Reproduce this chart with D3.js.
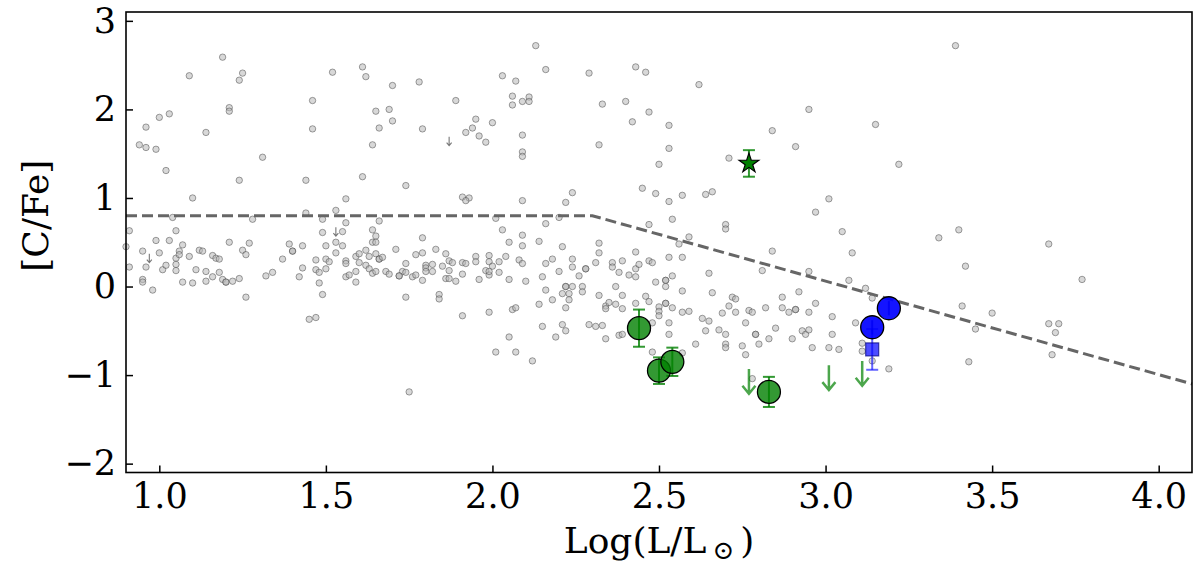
<!DOCTYPE html>
<html>
<head>
<meta charset="utf-8">
<script src="https://d3js.org/d3.v7.min.js"></script>
<style>
  body { margin: 0; background: white; }
  text { font-family: "DejaVu Serif", serif; }
</style>
</head>
<body>
<script>
// gray comparison sample: [log L, [C/Fe]]
const grayPoints = [
  [0.91,0.63],[0.94,1.60],[0.96,1.57],[0.96,1.80],[0.99,1.55],[1.00,1.91],[1.02,1.31],[1.03,1.95],[1.04,0.78],[1.05,0.63],
  [1.09,2.38],[1.10,1.00],[1.14,1.74],[1.19,2.59],[1.21,2.02],[1.21,1.98],[1.24,2.33],[1.25,2.41],[1.24,1.20],[1.28,0.76],
  [1.31,1.46],[1.44,1.20],[1.44,0.83],[1.46,2.10],[1.46,1.78],[1.49,0.76],[1.49,0.61],[1.52,2.42],[1.53,0.86],[1.55,0.62],
  [1.56,0.99],[1.56,0.72],[1.61,2.48],[1.62,2.37],[1.61,1.24],[1.64,1.60],[1.65,1.98],[1.66,1.79],[1.64,0.64],[1.65,0.57],
  [1.66,0.74],[1.69,2.00],
  [0.90,0.45],[0.91,0.22],[0.95,0.40],[0.96,0.22],[0.95,0.08],[0.95,0.05],[0.98,-0.04],[0.99,0.52],[1.00,0.38],[1.01,0.19],
  [1.02,0.24],[1.03,0.52],[1.05,0.32],[1.05,0.25],[1.05,0.18],[1.06,0.40],[1.06,0.36],[1.07,0.47],[1.07,0.05],[1.09,0.34],
  [1.10,0.04],[1.11,0.19],[1.12,0.41],[1.13,0.40],[1.14,0.17],[1.14,0.06],[1.16,0.35],[1.17,0.32],[1.18,0.31],[1.16,0.11],
  [1.18,0.16],[1.19,0.08],[1.20,0.05],[1.20,0.05],[1.21,0.50],[1.22,0.06],[1.24,0.09],[1.25,0.41],[1.26,0.36],[1.26,-0.12],
  [1.27,0.49],[1.32,0.12],[1.34,0.16],[1.37,0.31],[1.39,0.48],[1.40,0.40],[1.40,0.40],[1.43,0.46],[1.43,0.21],[1.42,0.11],
  [1.45,-0.37],[1.47,-0.35],[1.47,0.30],[1.47,0.19],[1.48,0.16],[1.48,0.04],[1.49,-0.09],[1.50,0.46],[1.50,0.31],[1.50,0.20],
  [1.51,0.28],[1.53,0.50],[1.53,0.38],[1.55,0.46],[1.56,0.29],[1.56,0.26],[1.56,0.11],[1.57,0.13],[1.59,0.34],[1.59,0.17],
  [1.59,0.05],[1.60,0.37],[1.60,0.27],[1.62,0.24],[1.62,0.41],[1.63,0.34],[1.63,0.20],[1.64,0.15],[1.64,0.50],[1.65,0.50],
  [1.65,0.37],[1.65,0.17],[1.66,0.31],[1.66,0.31],[1.67,0.33],[1.68,0.17],[1.69,0.14],
  [1.70,2.27],[1.70,1.87],[1.78,2.31],[1.79,1.78],[1.74,1.14],[1.79,0.55],[1.89,2.10],[1.92,1.74],[1.94,1.79],[1.95,1.89],
  [1.96,1.70],[1.98,1.63],[2.00,1.85],[1.91,1.01],[1.93,1.00],[1.92,0.97],[2.01,0.77],[2.03,2.38],[2.03,0.64],[2.06,2.15],
  [2.06,2.05],[2.07,2.32],[2.09,2.09],[2.11,2.14],[2.11,2.09],[2.09,1.71],[2.09,1.52],[2.09,1.47],[2.09,0.97],[2.09,0.58],
  [2.13,2.72],[2.16,2.45],[2.16,0.71],[2.20,0.78],[2.22,0.95],[2.24,1.06],[2.29,2.41],[2.33,2.06],[2.32,1.60],[2.40,2.09],
  [2.42,1.86],[2.43,2.48],[2.46,2.42],[2.47,1.97],[2.53,1.82],[2.53,1.56],[2.50,1.38],[2.45,1.11],[2.49,1.05],[2.53,0.96],
  [2.57,1.03],[2.47,0.70],[2.54,0.76],
  [1.71,0.42],[1.74,0.26],[1.73,0.17],[1.74,0.16],[1.72,0.12],[1.72,0.12],[1.76,0.11],[1.77,0.13],[1.77,0.36],[1.79,0.38],
  [1.79,0.07],[1.80,0.24],[1.80,0.21],[1.80,0.17],[1.82,0.25],[1.82,0.17],[1.83,0.42],[1.74,-0.12],[1.84,-0.09],[1.84,-0.14],
  [1.85,0.23],[1.86,0.37],[1.87,0.29],[1.87,0.18],[1.86,0.09],[1.87,0.09],[1.88,0.27],[1.89,0.06],[1.91,0.27],[1.92,0.26],
  [1.91,0.14],[1.91,-0.33],[1.95,0.34],[1.95,0.28],[1.96,0.08],[1.98,0.18],[1.99,0.35],[1.99,0.28],[1.99,0.13],[2.00,0.23],
  [1.99,0.17],[2.02,0.28],[2.02,0.16],[2.04,0.34],[2.05,0.50],[2.05,0.08],[1.99,-0.29],[2.01,-0.74],[2.05,-0.57],[2.06,-0.26],
  [2.07,-0.24],[2.07,-0.74],[2.08,0.30],[2.09,0.26],[2.09,0.46],[2.10,0.06],[2.12,-0.84],[2.14,0.51],[2.14,-0.20],[2.15,0.11],
  [2.15,-0.45],[2.16,0.26],[2.16,-0.04],[2.18,0.31],[2.18,-0.15],[2.19,-0.57],[2.20,0.17],[2.21,0.45],[2.21,-0.08],[2.21,-0.43],
  [2.22,0.00],[2.22,0.00],[2.22,-0.24],[2.22,-0.50],[2.23,-0.08],[2.23,-0.15],[2.24,0.31],[2.24,0.22],[2.24,0.00],[2.26,0.12],
  [2.27,0.00],[2.27,-0.06],[2.28,0.20],[2.28,0.20],[2.29,-0.43],[2.31,-0.45],[2.31,0.27],[2.32,0.49],[2.32,0.38],[2.32,-0.10],
  [2.33,-0.44],[2.34,-0.59],[2.34,-0.22],[2.34,-0.25],[2.35,-0.18],[2.36,0.27],[2.36,0.22],[2.37,0.00],[2.37,-0.20],[2.38,0.16],
  [2.38,-0.55],[2.39,0.29],[2.39,-0.10],[2.39,-0.25],[2.39,-0.54],[2.41,0.13],[2.43,0.39],[2.43,0.20],[2.43,0.11],[2.44,0.25],
  [2.43,-0.19],[2.46,-0.11],[2.47,0.29],[2.47,-0.17],[2.48,0.27],[2.48,-0.41],[2.49,0.05],[2.50,-0.23],[2.50,-0.28],[2.50,-0.33],
  [2.52,0.07],[2.52,0.07],[2.52,0.00],[2.52,-0.19],[2.52,-0.19],[2.53,0.33],[2.53,-0.41],[2.53,-0.54],[2.54,0.12],[2.54,-0.24],
  [2.56,0.48],[2.57,0.33],[2.57,-0.05],[2.57,-0.29],[2.48,-0.74],
  [2.62,2.28],[2.71,1.45],[2.84,1.76],[2.91,1.58],[2.95,2.00],[3.01,0.99],[2.97,0.84],[3.15,1.83],[3.22,1.38],[3.39,2.72],
  [2.64,1.04],[2.66,1.07],[2.70,0.70],[2.70,0.65],[2.59,0.56],[3.05,0.62],[3.34,0.55],[3.40,0.64],
  [2.59,-0.28],[2.57,-0.75],[2.61,-0.65],[2.63,-0.36],[2.64,-0.50],[2.65,0.15],[2.65,-0.39],[2.66,-0.07],[2.68,-0.49],[2.69,-0.30],
  [2.70,-0.54],[2.70,-0.65],[2.70,-0.69],[2.71,-0.22],[2.72,-0.12],[2.73,-0.14],[2.73,-0.29],[2.75,-0.67],[2.76,-0.41],[2.76,-0.77],
  [2.77,-0.27],[2.78,-0.29],[2.78,-1.04],[2.79,-0.54],[2.79,-0.54],[2.80,-0.65],[2.81,0.18],[2.82,-0.24],[2.83,-0.59],[2.84,0.40],
  [2.85,-0.47],[2.87,-0.12],[2.87,-0.24],[2.89,-0.29],[2.90,-0.59],[2.91,-0.26],[2.91,-0.26],[2.92,-0.06],[2.93,-0.50],[2.94,-0.54],
  [2.95,0.17],[2.95,-0.29],[2.95,-0.49],[2.96,-0.69],[2.97,-0.19],[3.01,-0.69],[3.02,-0.34],[3.02,-0.54],[3.04,-0.71],[3.07,0.07],
  [3.08,0.38],[3.09,-0.41],[3.11,-0.64],[3.11,-0.73],[3.12,-0.02],[3.14,-0.13],[3.14,-0.84],[3.19,-0.93],[3.41,-0.22],[3.42,0.23],
  [3.43,-0.85],[3.45,-0.48],
  [3.67,0.48],[3.77,0.08],[3.50,-0.30],[3.67,-0.42],[3.70,-0.42],[3.69,-0.52],[3.68,-0.77],[1.75,-1.19]
];
// gray upper limits
const grayLimits = [[0.97,0.37],[1.53,0.67],[1.87,1.69]];

// this work: [log L, [C/Fe], error]
const greenCircles = [[2.44,-0.47,0.21],[2.50,-0.95,0.15],[2.54,-0.85,0.16],[2.83,-1.19,0.17]];
const greenStar = [[2.77,1.39,0.15]];
const greenLimits = [[2.77,-0.93],[3.01,-0.89],[3.11,-0.84]];
const blueCircles = [[3.19,-0.245,0.08],[3.14,-0.46,0.08]];
const blueSquares = [[3.14,-0.71,0.23]];

// dividing line
const cutLine = [[0.9,0.8],[2.3,0.8],[4.1,-1.1]];

const xTicks = [1.0,1.5,2.0,2.5,3.0,3.5,4.0];
const yTicks = [-2,-1,0,1,2,3];

// svg canvas
const canvWidth = 1200, canvHeight = 565;
const margin = {top: 12, right: 8, bottom: 92.5, left: 126};
const width = canvWidth - margin.left - margin.right;
const height = canvHeight - margin.top - margin.bottom;

const svg = d3.select("body").append("svg")
  .attr("width", canvWidth)
  .attr("height", canvHeight);

const g = svg.append("g").attr("transform", "translate(" + margin.left + "," + margin.top + ")");

const x = d3.scaleLinear().domain([0.9, 4.1]).range([0, width]);
const y = d3.scaleLinear().domain([-2.1, 3.1]).range([height, 0]);

const fontSize = "35px";
const limitLen = 0.28;
const grayLimitLen = 0.1;

// gray sample
g.append("g").selectAll("circle").data(grayPoints).join("circle")
  .attr("cx", d => x(d[0])).attr("cy", d => y(d[1])).attr("r", 3.2)
  .attr("fill", "#b8b8b8").attr("fill-opacity", 0.55)
  .attr("stroke", "#444").attr("stroke-opacity", 0.55).attr("stroke-width", 0.9);

// small arrows for the gray upper limits
function arrowPath(d, len, head, headH) {
  const px = x(d[0]), top = y(d[1]), bot = y(d[1] - len);
  return "M" + px + "," + top + "V" + bot + "M" + (px - head) + "," + (bot - headH) + "L" + px + "," + bot + "L" + (px + head) + "," + (bot - headH);
}

g.append("g").attr("stroke", "#777").attr("stroke-width", 1.1).attr("fill", "none")
  .selectAll("path").data(grayLimits).join("path")
  .attr("d", d => arrowPath(d, grayLimitLen, 2.5, 3));

// dashed line
g.append("path").datum(cutLine)
  .attr("d", d3.line().x(d => x(d[0])).y(d => y(d[1])))
  .attr("fill", "none").attr("stroke", "#666").attr("stroke-width", 3)
  .attr("stroke-dasharray", "11,5");

// error bars helper
function drawErr(data, color, opacity, capW) {
  const eg = g.append("g").attr("stroke", color).attr("stroke-opacity", opacity).attr("stroke-width", 2);
  eg.selectAll(".bar").data(data).join("line")
    .attr("x1", d => x(d[0])).attr("x2", d => x(d[0]))
    .attr("y1", d => y(d[1] - d[2])).attr("y2", d => y(d[1] + d[2]));
  eg.selectAll(".capLo").data(data).join("line")
    .attr("x1", d => x(d[0]) - capW).attr("x2", d => x(d[0]) + capW)
    .attr("y1", d => y(d[1] - d[2])).attr("y2", d => y(d[1] - d[2]));
  eg.selectAll(".capHi").data(data).join("line")
    .attr("x1", d => x(d[0]) - capW).attr("x2", d => x(d[0]) + capW)
    .attr("y1", d => y(d[1] + d[2])).attr("y2", d => y(d[1] + d[2]));
}

// green upper limits
g.append("g").attr("stroke", "green").attr("stroke-opacity", 0.7)
  .attr("stroke-width", 2.5).attr("fill", "none")
  .selectAll("path").data(greenLimits).join("path")
  .attr("d", d => arrowPath(d, limitLen, 6.5, 8));

// green circles
drawErr(greenCircles, "green", 0.8, 6);
g.append("g").selectAll("circle").data(greenCircles).join("circle")
  .attr("cx", d => x(d[0])).attr("cy", d => y(d[1])).attr("r", 11.5)
  .attr("fill", "green").attr("fill-opacity", 0.8)
  .attr("stroke", "black").attr("stroke-width", 1.3);

// green star
drawErr(greenStar, "green", 0.8, 6);
g.append("g").selectAll("path").data(greenStar).join("path")
  .attr("transform", d => "translate(" + x(d[0]) + "," + y(d[1]) + ")")
  .attr("d", d3.symbol(d3.symbolStar, 120))
  .attr("fill", "green").attr("stroke", "black").attr("stroke-width", 1.2);

// blue square
drawErr(blueSquares, "blue", 0.6, 6);
g.append("g").selectAll("rect").data(blueSquares).join("rect")
  .attr("x", d => x(d[0]) - 6.5).attr("y", d => y(d[1]) - 6.5)
  .attr("width", 13).attr("height", 13)
  .attr("fill", "blue").attr("fill-opacity", 0.7)
  .attr("stroke", "#000080").attr("stroke-opacity", 0.7).attr("stroke-width", 1.2);

// blue circles
drawErr(blueCircles, "#000080", 0.8, 0);
g.append("g").selectAll("circle").data(blueCircles).join("circle")
  .attr("cx", d => x(d[0])).attr("cy", d => y(d[1])).attr("r", 11.5)
  .attr("fill", "blue").attr("fill-opacity", 0.92)
  .attr("stroke", "black").attr("stroke-width", 1.3);

// axes
const xAxis = g.append("g").attr("transform", "translate(0," + height + ")")
  .call(d3.axisBottom(x).tickValues(xTicks).tickFormat(d3.format(".1f")).tickSizeInner(-7).tickSizeOuter(0).tickPadding(11));
const yAxis = g.append("g")
  .call(d3.axisLeft(y).tickValues(yTicks).tickFormat(d3.format("d")).tickSizeInner(-7).tickSizeOuter(0).tickPadding(10));
[xAxis, yAxis].forEach(a => {
  a.select(".domain").remove();
  a.selectAll(".tick line").attr("stroke", "black").attr("stroke-width", 1.5);
  a.selectAll(".tick text").style("font-family", "DejaVu Serif").style("font-size", fontSize).attr("fill", "black");
});

// frame
g.append("rect").attr("width", width).attr("height", height)
  .attr("fill", "none").attr("stroke", "black").attr("stroke-width", 1.6);

// axis labels
const xLabel = svg.append("text")
  .attr("x", margin.left + width / 2).attr("y", 553)
  .attr("text-anchor", "middle")
  .style("font-size", "36px");
xLabel.append("tspan").text("Log(L/L");
xLabel.append("tspan").text("\u2299").style("font-size", "26px").attr("dx", 6).attr("dy", 6);
xLabel.append("tspan").text(")").attr("dx", 6).attr("dy", -6);

svg.append("text")
  .attr("transform", "translate(48," + (margin.top + y(0.8)) + ") rotate(-90)")
  .attr("text-anchor", "middle")
  .style("font-size", "36px")
  .text("[C/Fe]");
</script>
</body>
</html>
